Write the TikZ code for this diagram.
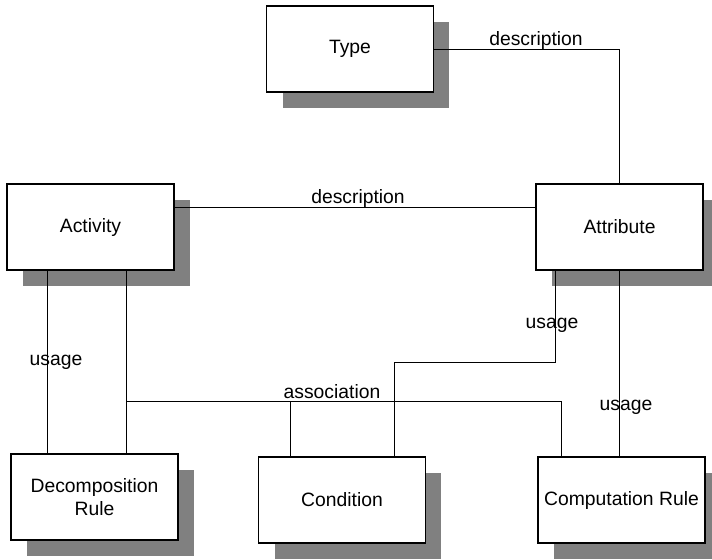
\documentclass[tikz,border=0pt]{standalone}
\usepackage{fontspec}
\setmainfont{Liberation Sans}
\usepackage{tikz}
\usetikzlibrary{calc,shadows}

\begin{document}
\begin{tikzpicture}[x=0.02cm,y=-0.02cm,
	entity/.style={draw=black,line width=0.8pt,fill=white,minimum width=3.34cm,minimum height=1.72cm,align=center,inner sep=1pt,font=\fontsize{11}{13}\selectfont,
		drop shadow={shadow xshift=0.32cm,shadow yshift=-0.32cm,fill=black!50,opacity=1}},
	rel/.style={line width=0.5pt},
	lbl/.style={inner sep=0pt,font=\fontsize{11}{13}\selectfont}]
	 	\useasboundingbox (0,0) rectangle (712,559);
	 	%% entities
	 	\node[entity] (type) at (350,49) {Type};
	 	\node[entity] (act) at (90.5,227) {Activity};
	 	\node[entity] (attr) at (619.5,227) {Attribute};
	 	\node[entity] (dec) at (94.5,497) {Decomposition\\Rule};
	 	\node[entity] (cond) at (342,500) {Condition};
	 	\node[entity] (comp) at (621.5,500) {Computation Rule};
	 	%% connection points
	 	\coordinate (actL) at ($(act.south)+(-43.5,0)$);
	 	\coordinate (actR) at ($(act.south)+(35.5,0)$);
	 	\coordinate (assoc) at ($(dec.north)+(31.5,-52)$);
	 	\coordinate (condL) at ($(cond.north)+(-52,0)$);
	 	\coordinate (condR) at ($(cond.north)+(52,0)$);
	 	\coordinate (compL) at ($(comp.north)+(-60.5,0)$);
	 	\coordinate (attrL) at ($(attr.south)+(-64.5,0)$);
	 	%%% relationships
	 	\draw[rel] (type.east) -| (attr.north);
	 	\draw[rel] ($(act.east)+(0,-20)$) -- ($(attr.west)+(0,-20)$);
	 	\draw[rel] (actL) -- (actL |- dec.north);
	 	\draw[rel] (actR) -- (actR |- dec.north);
	 	\draw[rel] (assoc) -| (compL);
	 	\draw[rel] (condL) -- (condL |- assoc);
	 	\draw[rel] (attrL) |- ($(condR)+(0,-94)$) -- (condR);
	 	\draw[rel] (attr.south) -- (attr.south |- comp.north);
	 	%% relationship labels
	 	\node[lbl] (descA) at (536,40) {description};
	 	\node[lbl] (descB) at (358,198) {description};
	 	\node[lbl] (useA) at (56,362) {usage};
	 	\node[lbl] (assocL) at (332,392) {association};
	 	\node[lbl] (useB) at (552,325) {usage};
	 	\node[lbl] (useC) at (626,407) {usage};
\end{tikzpicture}
\end{document}
